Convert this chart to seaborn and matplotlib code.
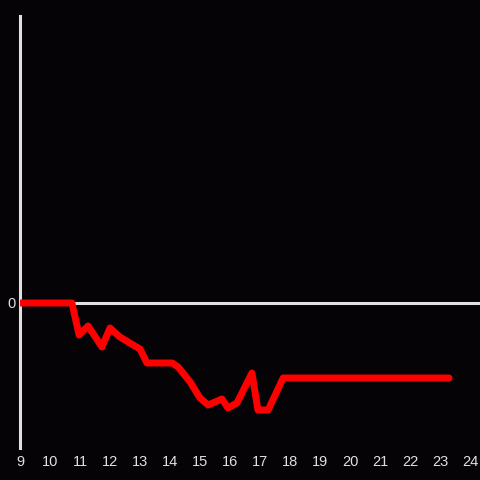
import pandas as pd
import seaborn as sns
import matplotlib.pyplot as plt

# hour of day vs value
hours = [9.0, 10.73, 10.97, 11.27, 11.73, 12.0, 12.33, 12.77, 13.0, 13.23, 14.07, 14.27,
         14.67, 15.0, 15.27, 15.73, 15.93, 16.23, 16.73, 16.93, 17.27, 17.77, 23.3]
values = [0.0, 0.0, -3.2, -2.3, -4.4, -2.5, -3.4, -4.2, -4.6, -6.0, -6.0, -6.4,
          -7.9, -9.5, -10.2, -9.6, -10.5, -10.0, -7.0, -10.7, -10.7, -7.5, -7.5]
xticks = list(range(9, 25))

df = pd.DataFrame({"hour": hours, "value": values})

bg = "#050306"
fg = "#e0e0e0"

sns.set_style("dark")
plt.rcParams["font.family"] = ["Liberation Sans", "DejaVu Sans"]
fig = plt.figure(figsize=(4.8, 4.8), dpi=100, facecolor=bg)
ax = fig.add_axes([20 / 480, 32 / 480, 460 / 480, 432 / 480])
ax.set_facecolor(bg)

ax.axhline(0, color=fg, linewidth=2.2, zorder=1)
sns.lineplot(data=df, x="hour", y="value", ax=ax, color="#ff0000", linewidth=5,
             sort=False, zorder=3)

ax.set_xlim(9, 24.33)
ax.set_ylim(-14.5, 28.7)
ax.set_xticks(xticks)
ax.set_xticklabels([str(t) for t in xticks])
ax.set_yticks([0])
ax.set_yticklabels(["0"])
ax.tick_params(colors=fg, labelsize=10.5, length=0, pad=5)
ax.tick_params(axis="y", pad=3)
ax.set_xlabel("")
ax.set_ylabel("")
ax.grid(False)
for s in ["top", "right", "bottom"]:
    ax.spines[s].set_visible(False)
ax.spines["left"].set_color(fg)
ax.spines["left"].set_linewidth(2.2)

fig.savefig("out.png", dpi=100, facecolor=bg)
